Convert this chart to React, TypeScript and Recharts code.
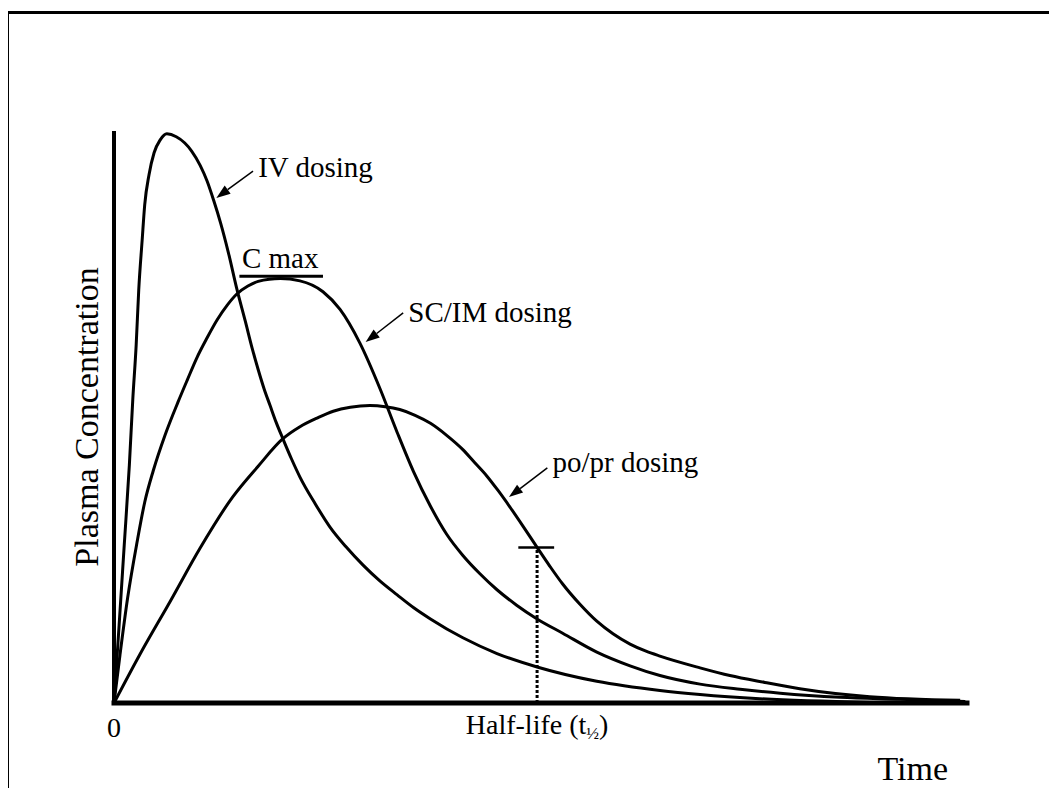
import { LineChart, Line, XAxis, YAxis, ReferenceLine, ReferenceDot } from 'recharts'

// time (arbitrary units 0..10) and plasma concentration (% of IV peak)
const ivTime = [0, 0.06, 0.12, 0.18, 0.22, 0.26, 0.29, 0.33, 0.36, 0.41, 0.47, 0.54, 0.62, 0.73, 0.83, 0.91, 1.01, 1.09, 1.17, 1.25, 1.34, 1.44, 1.54, 1.62, 1.69, 1.76, 1.83, 1.9, 1.98, 2.08, 2.18, 2.36, 2.53, 2.72, 2.92, 3.12, 3.32, 3.51, 3.71, 4.09, 4.49, 4.96, 5.66, 6.4, 6.87, 7.57, 8.86]
const ivConc = [0, 13.6, 27.6, 41.6, 53.0, 62.6, 72.2, 80.9, 87.1, 92.3, 96.2, 98.4, 99.5, 99.0, 97.9, 96.5, 94.0, 91.3, 87.8, 83.9, 78.8, 72.4, 66.7, 62.0, 58.3, 54.9, 52.0, 49.1, 46.2, 42.7, 39.5, 34.8, 30.8, 27.3, 24.1, 21.3, 18.9, 16.7, 14.7, 11.4, 8.65, 6.3, 3.8, 2.2, 1.5, 0.75, 0.1]

const scTime = [0, 0.07, 0.16, 0.27, 0.36, 0.46, 0.6, 0.75, 0.86, 0.97, 1.09, 1.21, 1.33, 1.44, 1.57, 1.69, 1.82, 1.95, 2.18, 2.45, 2.65, 2.88, 3.12, 3.32, 3.51, 3.71, 3.9, 4.09, 4.29, 4.49, 4.72, 4.96, 5.26, 5.66, 6.05, 6.4, 6.87, 7.34, 7.81, 8.51, 9.22, 9.98]
const scConc = [0, 8.4, 18.4, 28.1, 35.1, 40.6, 46.9, 52.6, 56.5, 60.3, 63.8, 67.0, 69.6, 71.5, 72.9, 73.7, 74.1, 74.2, 73.8, 71.9, 68.8, 63.0, 54.9, 47.3, 40.5, 34.4, 29.5, 25.8, 22.6, 19.8, 17.1, 14.7, 12.2, 8.9, 6.5, 4.8, 3.3, 2.4, 1.7, 1.0, 0.65, 0.26]

const poTime = [0, 0.3, 0.66, 1.01, 1.39, 1.69, 1.98, 2.18, 2.38, 2.57, 2.77, 3.0, 3.18, 3.35, 3.53, 3.71, 3.9, 4.09, 4.23, 4.37, 4.5, 4.64, 4.8, 4.96, 5.11, 5.26, 5.46, 5.66, 5.85, 6.05, 6.23, 6.4, 6.87, 7.22, 7.63, 8.04, 8.86, 9.92]
const poConc = [0, 8.4, 17.8, 27.1, 36.0, 41.4, 46.2, 48.3, 49.8, 51.0, 51.7, 52.0, 51.8, 51.3, 50.3, 48.9, 46.8, 44.3, 42.0, 39.7, 37.2, 34.3, 30.8, 27.2, 23.9, 20.8, 17.3, 14.3, 12.1, 10.3, 9.1, 8.2, 6.15, 4.8, 3.6, 2.5, 1.1, 0.47]

const halfLifeT = 4.96
const halfLifeC = 27.2
const cMax = 74.6

const toPoints = (ts: number[], cs: number[]) => ts.map((t, i) => ({ t, c: cs[i] }))

const ivData = toPoints(ivTime, ivConc)
const scData = toPoints(scTime, scConc)
const poData = toPoints(poTime, poConc)

const serif = "'Liberation Serif', 'Times New Roman', serif"

const Arrow = (props: any) => {
  const { x1, y1, x2, y2 } = props
  const dx = x2 - x1
  const dy = y2 - y1
  const len = Math.hypot(dx, dy) || 1
  const ux = dx / len
  const uy = dy / len
  const head = 14
  const half = 5
  const bx = x2 - ux * head
  const by = y2 - uy * head
  return (
    <g>
      <line x1={x1} y1={y1} x2={bx} y2={by} stroke="#000" strokeWidth={1.5} />
      <polygon
        points={`${x2},${y2} ${bx - uy * half},${by + ux * half} ${bx + uy * half},${by - ux * half}`}
        fill="#000"
      />
    </g>
  )
}

const note = (text: string) => (p: any) => (
  <text x={p.cx} y={p.cy} fontFamily={serif} fontSize={29} fill="#000">
    {text}
  </text>
)

const renderTick = (p: any) => {
  const { x, y, payload } = p
  if (payload.value === 0) {
    return (
      <text x={x} y={y + 26} textAnchor="middle" fontFamily={serif} fontSize={28} fill="#000">
        0
      </text>
    )
  }
  return (
    <text x={x} y={y + 23} textAnchor="middle" fontFamily={serif} fontSize={28} fill="#000">
      Half-life (t<tspan fontSize={17} dy={5}>½</tspan><tspan dy={-5}>)</tspan>
    </text>
  )
}

const timeLabel = (p: any) => {
  const vb = p.viewBox
  return (
    <text x={vb.x + vb.width - 19} y={vb.y + 77} textAnchor="end" fontFamily={serif} fontSize={34} fill="#000">
      Time
    </text>
  )
}

const concLabel = (p: any) => {
  const vb = p.viewBox
  const cx = vb.x + vb.width - 16
  const cy = vb.y + vb.height / 2
  return (
    <text
      x={cx}
      y={cy}
      textAnchor="middle"
      transform={`rotate(-90, ${cx}, ${cy})`}
      fontFamily={serif}
      fontSize={34}
      fill="#000"
    >
      Plasma Concentration
    </text>
  )
}

export default function App() {
  return (
    <div style={{ position: 'relative', width: 1057, height: 796, margin: -8, background: '#fff' }}>
      <div
        style={{
          position: 'absolute',
          left: 7,
          top: 11,
          right: 0,
          bottom: 0,
          borderTop: '3px solid #000',
          borderLeft: '2px solid #000',
        }}
      />
      <div style={{ position: 'absolute', left: 0, top: 0 }}>
        <LineChart width={1057} height={796} margin={{ top: 131, right: 90, bottom: 63, left: 54 }}>
          <XAxis
            type="number"
            dataKey="t"
            domain={[0, 10]}
            ticks={[0, halfLifeT]}
            tickLine={false}
            tick={renderTick}
            axisLine={{ stroke: '#000', strokeWidth: 5, strokeLinecap: 'square' }}
            height={30}
            allowDataOverflow
            label={{ content: timeLabel }}
          />
          <YAxis
            type="number"
            domain={[0, 100]}
            tick={false}
            tickLine={false}
            width={60}
            axisLine={{ stroke: '#000', strokeWidth: 4 }}
            label={{ content: concLabel }}
          />
          <Line data={ivData} dataKey="c" type="monotone" stroke="#000" strokeWidth={3} dot={false} activeDot={false} isAnimationActive={false} />
          <Line data={scData} dataKey="c" type="monotone" stroke="#000" strokeWidth={3} dot={false} activeDot={false} isAnimationActive={false} />
          <Line data={poData} dataKey="c" type="monotone" stroke="#000" strokeWidth={3} dot={false} activeDot={false} isAnimationActive={false} />

          {/* half-life marker */}
          <ReferenceLine
            segment={[{ x: halfLifeT, y: 0 }, { x: halfLifeT, y: halfLifeC }]}
            stroke="#000"
            strokeWidth={3}
            strokeDasharray="3 2"
          />
          <ReferenceLine
            segment={[{ x: halfLifeT - 0.22, y: halfLifeC }, { x: halfLifeT + 0.2, y: halfLifeC }]}
            stroke="#000"
            strokeWidth={2.5}
          />
          {/* C max bar */}
          <ReferenceLine segment={[{ x: 1.47, y: cMax }, { x: 2.45, y: cMax }]} stroke="#000" strokeWidth={3} />

          <ReferenceLine segment={[{ x: 1.63, y: 93.0 }, { x: 1.2, y: 88.3 }]} shape={Arrow} />
          <ReferenceLine segment={[{ x: 3.39, y: 68.2 }, { x: 2.95, y: 63.1 }]} shape={Arrow} />
          <ReferenceLine segment={[{ x: 5.08, y: 41.1 }, { x: 4.63, y: 36.0 }]} shape={Arrow} />

          <ReferenceDot x={1.69} y={92.0} r={0} shape={note('IV dosing')} />
          <ReferenceDot x={1.5} y={76.0} r={0} shape={note('C max')} />
          <ReferenceDot x={3.45} y={66.6} r={0} shape={note('SC/IM dosing')} />
          <ReferenceDot x={5.14} y={40.4} r={0} shape={note('po/pr dosing')} />
        </LineChart>
      </div>
    </div>
  )
}
